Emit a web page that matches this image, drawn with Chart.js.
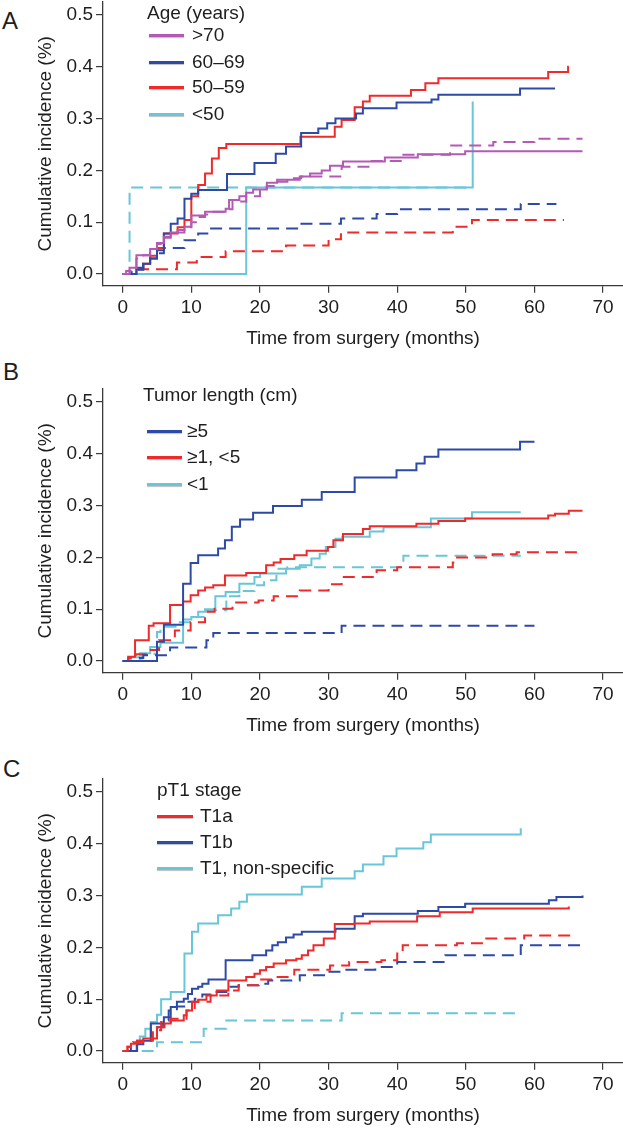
<!DOCTYPE html>
<html>
<head>
<meta charset="utf-8">
<script src="https://cdn.jsdelivr.net/npm/chart.js@4.4.1/dist/chart.umd.min.js"></script>
<style>
  html, body { margin: 0; padding: 0; background: #fff; overflow: hidden; }
  body { width: 623px; height: 1130px; position: relative; font-family: "Liberation Sans", Arial, sans-serif; color: #1e1e1e; }
  .panel { position: absolute; left: 0; width: 623px; height: 350px; }
  .tag { position: absolute; font-size: 24px; line-height: 24px; }
  .lg { position: absolute; font-size: 19px; line-height: 19px; white-space: nowrap; }
  .ln { position: absolute; height: 3px; box-shadow: 0 1px 1px rgba(0,0,0,0.25); }
</style>
</head>
<body>
<div class="tag" style="left:2px;top:9px">A</div>
<div class="tag" style="left:3px;top:360px">B</div>
<div class="tag" style="left:3px;top:757px">C</div>
<div class="panel" style="top:0px"><canvas id="chartA" width="623" height="350"></canvas></div>
<div class="panel" style="top:387px"><canvas id="chartB" width="623" height="350"></canvas></div>
<div class="panel" style="top:777px"><canvas id="chartC" width="623" height="350"></canvas></div>

<script>
// sumbu
const xTicks = [0, 10, 20, 30, 40, 50, 60, 70];
const yTicks = [0, 0.1, 0.2, 0.3, 0.4, 0.5];
const xTitle = "Time from surgery (months)";
const yTitle = "Cumulative incidence (%)";

// A: age (years)  [month, cumulative incidence]
const ageOver70Solid = [[0,0],[0.5,0.006],[1,0.012],[2,0.036],[4,0.048],[5,0.06],[6,0.072],[7,0.08],[9,0.091],[10,0.113],[12,0.12],[15,0.126],[15.5,0.143],[17,0.15],[18,0.157],[19,0.163],[21,0.176],[22.5,0.182],[25.8,0.188],[27.3,0.194],[29,0.2],[30.2,0.209],[32.1,0.217],[38.2,0.225],[43,0.231],[49.9,0.237],[67,0.237]];
const ageOver70Dash = [[0,0],[1,0.006],[2,0.03],[3,0.036],[4,0.048],[5,0.058],[6,0.07],[7,0.08],[8,0.085],[9,0.09],[10,0.1],[11,0.11],[12,0.115],[13,0.12],[15,0.125],[16,0.14],[18,0.15],[20,0.16],[21,0.17],[22,0.178],[24,0.185],[26,0.188],[31.9,0.207],[36,0.218],[40.9,0.23],[47.7,0.248],[54,0.255],[60,0.261],[67,0.261]];
const age6069Solid = [[0,0],[2,0.012],[3,0.02],[4,0.03],[5,0.046],[6,0.078],[7,0.097],[8,0.107],[9,0.145],[10,0.155],[11,0.162],[15.2,0.193],[19.2,0.214],[22.3,0.232],[23.8,0.246],[26,0.272],[28.5,0.281],[29.8,0.291],[31,0.3],[34,0.31],[35,0.32],[39.9,0.331],[45,0.337],[46,0.346],[57.9,0.358],[63,0.358]];
const age6069Dash = [[0,0],[1.3,0.008],[3,0.02],[4,0.03],[5,0.04],[6,0.05],[9,0.065],[11,0.078],[12.5,0.088],[25.8,0.097],[31.8,0.107],[37,0.116],[40,0.125],[58,0.135],[63.2,0.135]];
const age5059Solid = [[0,0],[2,0.011],[3,0.02],[4,0.035],[5,0.05],[6,0.078],[8,0.09],[9,0.104],[10,0.15],[11,0.172],[12,0.194],[13,0.223],[14,0.243],[15.1,0.251],[25.9,0.265],[30.9,0.284],[31.9,0.297],[33.8,0.322],[35,0.333],[36,0.344],[42,0.355],[44.1,0.368],[46,0.378],[62,0.39],[64.9,0.4],[65,0.4]];
const age5059Dash = [[0,0],[1.8,0.009],[7.9,0.022],[10.8,0.033],[15,0.044],[23.8,0.055],[30,0.067],[31.8,0.08],[48.1,0.091],[50.9,0.104],[64.3,0.104]];
const ageUnder50Solid = [[0,0],[18,0.167],[51,0.333]];
const ageUnder50Dash = [[0,0],[1,0.167],[51,0.167]];

// B: tumor length (cm)
const len5Solid = [[0,0],[5,0.037],[6,0.07],[8.8,0.149],[9.9,0.189],[11,0.204],[13.9,0.217],[14.9,0.233],[15.9,0.259],[17.1,0.273],[19,0.286],[21.9,0.299],[26.1,0.311],[29,0.326],[33.8,0.354],[39.9,0.368],[42.8,0.381],[44,0.394],[46,0.408],[57.9,0.423],[60,0.423]];
const len5Dash = [[0,0],[2.5,0.006],[3,0.011],[6.9,0.026],[12.2,0.04],[13.2,0.054],[31.9,0.068],[60,0.068]];
const len1to5Solid = [[0,0],[0.8,0.008],[1.8,0.04],[3.8,0.068],[4.5,0.073],[6.9,0.108],[8.8,0.115],[9.9,0.127],[11,0.136],[12,0.142],[13.2,0.146],[14.9,0.165],[18,0.17],[20.9,0.185],[22,0.19],[23,0.197],[25,0.204],[26.8,0.213],[29.9,0.22],[30.7,0.233],[32.1,0.245],[35,0.255],[36,0.26],[42.8,0.265],[46,0.27],[49.9,0.275],[62,0.281],[63,0.284],[65,0.29],[67,0.29]];
const len1to5Dash = [[0,0],[0.8,0.006],[2,0.013],[3.5,0.021],[5.3,0.04],[7.6,0.059],[9.9,0.075],[12,0.095],[13.4,0.101],[16,0.113],[19.8,0.117],[22,0.125],[25.8,0.136],[30,0.148],[31.9,0.162],[37,0.175],[40,0.181],[48.1,0.19],[48.4,0.2],[53.9,0.206],[57.4,0.21],[67,0.21]];
const lenUnder1Solid = [[0,0],[1,0.007],[2.5,0.015],[4,0.027],[5.5,0.035],[8.8,0.08],[10,0.085],[11,0.095],[12,0.1],[13.5,0.125],[15,0.133],[17,0.149],[19.2,0.162],[20,0.169],[23.8,0.178],[25.8,0.185],[27.5,0.198],[28.7,0.207],[29.6,0.22],[31,0.236],[32,0.24],[36,0.25],[38,0.258],[44.9,0.275],[50.9,0.287],[58,0.287]];
const lenUnder1Dash = [[0,0],[1,0.005],[2.8,0.014],[5,0.056],[5.5,0.066],[8,0.075],[10,0.085],[12,0.098],[15.1,0.125],[17,0.135],[19.2,0.146],[20.6,0.156],[22.4,0.178],[24,0.181],[40.9,0.203],[58,0.203]];

// C: pT1 stage
const t1aSolid = [[0,0],[0.7,0.008],[1.2,0.014],[2.1,0.02],[3,0.024],[5,0.046],[6.1,0.053],[7,0.059],[8.9,0.069],[9.3,0.078],[10.1,0.095],[11,0.099],[12.2,0.107],[13.7,0.117],[15.4,0.136],[18,0.143],[19.2,0.149],[20,0.156],[20.9,0.162],[22,0.169],[23.8,0.175],[25.3,0.178],[26.1,0.185],[27,0.194],[27.8,0.204],[29.3,0.217],[30.9,0.245],[33.8,0.246],[36,0.25],[42.9,0.26],[46.2,0.268],[51,0.275],[65,0.279]];
const t1aDash = [[0,0],[0.7,0.008],[1.5,0.017],[3,0.02],[4.4,0.04],[5.6,0.056],[7,0.062],[9.3,0.078],[10.5,0.095],[12.8,0.107],[15.4,0.117],[16.9,0.127],[20,0.138],[22,0.143],[25,0.157],[30.2,0.165],[33,0.172],[37.7,0.175],[40,0.188],[40.8,0.204],[48.7,0.208],[52.7,0.217],[58.5,0.223],[65.2,0.223]];
const t1bSolid = [[0,0],[2.1,0.013],[3,0.02],[4.1,0.053],[6,0.065],[7,0.085],[7.9,0.095],[8.9,0.101],[9.5,0.11],[10.1,0.12],[11,0.124],[11.6,0.13],[12.5,0.138],[15,0.175],[18.9,0.185],[20.9,0.194],[21.8,0.204],[22.6,0.21],[23.8,0.219],[24.9,0.225],[26.1,0.23],[31,0.236],[33.8,0.26],[35,0.265],[43,0.27],[46,0.278],[49.9,0.284],[62.1,0.291],[63.2,0.297],[67,0.3]];
const t1bDash = [[0,0],[1.2,0.011],[2.1,0.02],[4.1,0.046],[5.9,0.059],[6.7,0.078],[7.9,0.086],[9.1,0.095],[10.5,0.101],[11.6,0.109],[13.4,0.114],[15.1,0.124],[16.9,0.127],[19.8,0.13],[21.2,0.136],[25.8,0.146],[29.9,0.153],[31.9,0.157],[36.8,0.162],[40,0.172],[47,0.185],[58,0.204],[67,0.204]];
const t1nsSolid = [[0,0],[2,0.015],[2.5,0.028],[3.3,0.043],[4.1,0.056],[5,0.07],[5.6,0.1],[7,0.114],[9,0.188],[10.1,0.23],[11,0.246],[13.9,0.262],[15.8,0.275],[17,0.288],[18.1,0.302],[26.1,0.317],[29,0.333],[33.8,0.347],[35,0.36],[38,0.376],[39.9,0.391],[43.8,0.403],[44.9,0.418],[58,0.43]];
const t1nsDash = [[0,0],[5,0.017],[11.8,0.043],[15.1,0.059],[31.9,0.073],[58,0.073]];

// legend
const legendTitles = ["Age (years)", "Tumor length (cm)", "pT1 stage"];
const ageLabels = [">70", "60–69", "50–59", "<50"];
const lengthLabels = ["≥5", "≥1, <5", "<1"];
const stageLabels = ["T1a", "T1b", "T1, non-specific"];

const red = "#ee2a2a";
const blue = "#2c4aa6";
const cyan = "#68c6d8";
const purple = "#b35ab5";
const axisColor = "#3a3a3a";
const textColor = "#1e1e1e";
const fontFam = "'Liberation Sans', Arial, sans-serif";

function garis(data, color, dashed) {
  return {
    data: data.map(p => ({ x: p[0], y: p[1] })),
    borderColor: color,
    borderWidth: 2,
    borderDash: dashed ? [12, 7] : [],
    stepped: true,
    pointRadius: 0,
    fill: false
  };
}

function buatGrafik(id, datasets) {
  return new Chart(document.getElementById(id), {
    type: "line",
    data: { datasets },
    options: {
      responsive: false,
      animation: false,
      devicePixelRatio: 1,
      layout: { padding: { top: 2, left: 0, right: 0, bottom: 0 } },
      plugins: { legend: { display: false }, tooltip: { enabled: false } },
      scales: {
        x: {
          type: "linear",
          min: -2.87,
          max: 72.9,
          afterBuildTicks: s => { s.ticks = xTicks.map(v => ({ value: v })); },
          afterFit: s => { s.height = 64.3; s.paddingLeft = 0; s.paddingRight = 0; },
          grid: { drawOnChartArea: false, drawTicks: true, tickLength: 7, color: axisColor, lineWidth: 1.2 },
          border: { display: true, color: axisColor, width: 1.3 },
          ticks: { color: textColor, font: { size: 19, family: fontFam }, padding: 4, maxRotation: 0, autoSkip: false },
          title: { display: true, text: xTitle, color: textColor, font: { size: 19, family: fontFam }, padding: { top: 0, bottom: 0 } }
        },
        y: {
          type: "linear",
          min: -0.0226,
          max: 0.525,
          afterBuildTicks: s => { s.ticks = yTicks.map(v => ({ value: v })); },
          afterFit: s => { s.width = 103; s.paddingTop = 0; s.paddingBottom = 0; },
          grid: { drawOnChartArea: false, drawTicks: true, tickLength: 7, color: axisColor, lineWidth: 1.2 },
          border: { display: true, color: axisColor, width: 1.3 },
          ticks: { color: textColor, font: { size: 19, family: fontFam }, padding: 3, callback: v => v.toFixed(1) },
          title: { display: true, text: yTitle, color: textColor, font: { size: 19, family: fontFam }, padding: { top: 34, bottom: 0 } }
        }
      }
    }
  });
}

buatGrafik("chartA", [
  garis(ageOver70Solid, purple, false), garis(ageOver70Dash, purple, true),
  garis(age6069Solid, blue, false), garis(age6069Dash, blue, true),
  garis(age5059Solid, red, false), garis(age5059Dash, red, true),
  garis(ageUnder50Solid, cyan, false), garis(ageUnder50Dash, cyan, true)
]);

buatGrafik("chartB", [
  garis(len5Solid, blue, false), garis(len5Dash, blue, true),
  garis(len1to5Solid, red, false), garis(len1to5Dash, red, true),
  garis(lenUnder1Solid, cyan, false), garis(lenUnder1Dash, cyan, true)
]);

buatGrafik("chartC", [
  garis(t1aSolid, red, false), garis(t1aDash, red, true),
  garis(t1bSolid, blue, false), garis(t1bDash, blue, true),
  garis(t1nsSolid, cyan, false), garis(t1nsDash, cyan, true)
]);

// legenda di dalam area plot (posisi halaman)
function tulisLegenda(title, labels, colors, pos) {
  const el = document.createElement("div");
  el.className = "lg";
  el.style.left = pos.titleX + "px";
  el.style.top = (pos.titleY - 10) + "px";
  el.textContent = title;
  document.body.appendChild(el);
  labels.forEach((lab, i) => {
    const y = pos.rows[i];
    const ln = document.createElement("div");
    ln.className = "ln";
    ln.style.left = pos.lineX + "px";
    ln.style.width = pos.lineW + "px";
    ln.style.top = (y - 1.5) + "px";
    ln.style.background = colors[i];
    document.body.appendChild(ln);
    const t = document.createElement("div");
    t.className = "lg";
    t.style.left = pos.textX + "px";
    t.style.top = (y - 10) + "px";
    t.textContent = lab;
    document.body.appendChild(t);
  });
}

tulisLegenda(legendTitles[0], ageLabels, [purple, blue, red, cyan],
  { titleX: 147, titleY: 13, lineX: 149, lineW: 35, textX: 192, rows: [35, 62, 87, 114] });
tulisLegenda(legendTitles[1], lengthLabels, [blue, red, cyan],
  { titleX: 143, titleY: 395, lineX: 147, lineW: 35, textX: 187, rows: [431, 457, 484] });
tulisLegenda(legendTitles[2], stageLabels, [red, blue, cyan],
  { titleX: 157, titleY: 790, lineX: 157, lineW: 36, textX: 200, rows: [816, 842, 868] });
</script>
</body>
</html>
